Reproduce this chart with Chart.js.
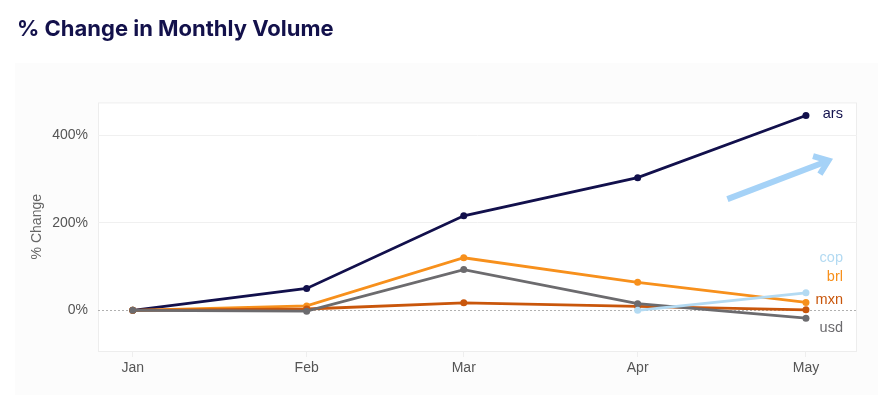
<!DOCTYPE html>
<html lang="en">
<head>
    <meta charset="UTF-8">
    <title>% Change in Monthly Volume</title>
    <style>
        html, body { margin: 0; padding: 0; background: #fff; }
        .chart-container { width: 878px; height: 395px; }
    </style>
</head>
<body>
    <div class="chart-container">
        <canvas id="lineChart" width="878" height="395"></canvas>
    </div>

    <script src="https://cdn.jsdelivr.net/npm/chart.js@4"></script>
    <script>
        // months on a day-of-year axis (Jan 1 = 0)
        const months = ['Jan', 'Feb', 'Mar', 'Apr', 'May'];
        const monthDays = [0, 31, 59, 90, 120];
        const yTicks = [0, 200, 400];

        // % change per month
        const ars = [0, 50, 216, 303, 445];
        const brl = [0, 10, 120, 64, 18];
        const usd = [0, -2, 93, 15, -18];
        const mxn = [0, 3, 17, 9, 1];
        const cop = [null, null, null, 0, 40];

        // decorative trend arrow, in data units (day, %)
        const arrowFrom = [106, 254];
        const arrowTo = [124, 342];

        const toPoints = vals => vals.map((v, i) => ({ x: monthDays[i], y: v }));

        const series = [
            { label: 'cop', data: cop, color: '#b3daf2', dy: -35 },
            { label: 'usd', data: usd, color: '#6c6b6e', dy: 10 },
            { label: 'mxn', data: mxn, color: '#c9560b', dy: -10 },
            { label: 'brl', data: brl, color: '#f7901c', dy: -25 },
            { label: 'ars', data: ars, color: '#12104c', dy: -2 }
        ];

        const font = "'Liberation Sans', Arial, sans-serif";

        const backdrop = {
            id: 'backdrop',
            beforeDraw(chart) {
                const { ctx, chartArea: a } = chart;
                ctx.save();
                ctx.fillStyle = '#fcfcfc';
                ctx.fillRect(15, 63, chart.width - 15, chart.height - 63);
                ctx.fillStyle = '#ffffff';
                ctx.fillRect(a.left, a.top, a.right - a.left, a.bottom - a.top);
                ctx.strokeStyle = '#ededed';
                ctx.lineWidth = 1;
                ctx.strokeRect(a.left + 0.5, a.top + 0.5, a.right - a.left - 1, a.bottom - a.top);
                // dotted zero line
                const y0 = Math.round(chart.scales.y.getPixelForValue(0)) + 0.5;
                ctx.strokeStyle = '#b0b0b0';
                ctx.setLineDash([2, 2]);
                ctx.beginPath();
                ctx.moveTo(a.left, y0);
                ctx.lineTo(a.right, y0);
                ctx.stroke();
                ctx.restore();
            }
        };

        const endLabels = {
            id: 'endLabels',
            afterDatasetsDraw(chart) {
                const { ctx } = chart;
                ctx.save();
                ctx.font = '14.5px ' + font;
                ctx.textAlign = 'right';
                ctx.textBaseline = 'middle';
                chart.data.datasets.forEach((ds, i) => {
                    const meta = chart.getDatasetMeta(i);
                    const last = meta.data[meta.data.length - 1];
                    ctx.fillStyle = ds.borderColor;
                    ctx.fillText(ds.label, last.x + 37, last.y + series[i].dy);
                });
                ctx.restore();
            }
        };

        const trendArrow = {
            id: 'trendArrow',
            afterDatasetsDraw(chart) {
                const { ctx, scales: { x, y } } = chart;
                const x1 = x.getPixelForValue(arrowFrom[0]), y1 = y.getPixelForValue(arrowFrom[1]);
                const x2 = x.getPixelForValue(arrowTo[0]), y2 = y.getPixelForValue(arrowTo[1]);
                const ang = Math.atan2(y2 - y1, x2 - x1);
                const head = 16;
                ctx.save();
                ctx.strokeStyle = '#a5d2f7';
                ctx.lineWidth = 6;
                ctx.lineCap = 'butt';
                ctx.lineJoin = 'miter';
                ctx.beginPath();
                ctx.moveTo(x1, y1);
                ctx.lineTo(x2 - 3 * Math.cos(ang), y2 - 3 * Math.sin(ang));
                ctx.stroke();
                ctx.beginPath();
                ctx.moveTo(x2 + head * Math.cos(ang + Math.PI - 0.65), y2 + head * Math.sin(ang + Math.PI - 0.65));
                ctx.lineTo(x2, y2);
                ctx.lineTo(x2 + head * Math.cos(ang + Math.PI + 0.65), y2 + head * Math.sin(ang + Math.PI + 0.65));
                ctx.stroke();
                ctx.restore();
            }
        };

        const ctxLine = document.getElementById('lineChart').getContext('2d');
        const lineChart = new Chart(ctxLine, {
            type: 'line',
            data: {
                datasets: series.map(s => ({
                    label: s.label,
                    data: toPoints(s.data),
                    borderColor: s.color,
                    backgroundColor: s.color,
                    borderWidth: 2.8,
                    pointRadius: 3.5,
                    pointBorderWidth: 0,
                    tension: 0,
                    spanGaps: false
                }))
            },
            options: {
                responsive: false,
                animation: false,
                devicePixelRatio: 1,
                layout: { padding: { left: 17, right: 21, top: 0, bottom: 12 } },
                plugins: {
                    legend: { display: false },
                    tooltip: { enabled: false },
                    title: {
                        display: true,
                        text: '% Change in Monthly Volume',
                        align: 'start',
                        color: '#13114b',
                        font: { family: "Inter, sans-serif", size: 22, weight: 'bold' },
                        padding: { top: 16, bottom: 60 }
                    }
                },
                scales: {
                    x: {
                        type: 'linear',
                        min: -6.2,
                        max: 129.1,
                        afterBuildTicks: axis => { axis.ticks = monthDays.map(v => ({ value: v })); },
                        afterFit: axis => { axis.height = 32; },
                        ticks: {
                            color: '#555',
                            font: { family: font, size: 14 },
                            padding: 3,
                            maxRotation: 0,
                            callback: v => months[monthDays.indexOf(v)]
                        },
                        grid: { drawOnChartArea: false, color: '#eeeeee', tickLength: 6 },
                        border: { display: false }
                    },
                    y: {
                        min: -93,
                        max: 475,
                        afterBuildTicks: axis => { axis.ticks = yTicks.map(v => ({ value: v })); },
                        afterFit: axis => { axis.width = 81; },
                        ticks: {
                            color: '#555',
                            font: { family: font, size: 14 },
                            padding: 10,
                            callback: v => v + '%'
                        },
                        grid: {
                            drawTicks: false,
                            color: c => c.tick && c.tick.value === 0 ? 'rgba(0,0,0,0)' : '#f0f0f0'
                        },
                        border: { display: false },
                        title: {
                            display: true,
                            text: '% Change',
                            color: '#666',
                            font: { family: font, size: 14 },
                            padding: { top: 12, bottom: 0 }
                        }
                    }
                }
            },
            plugins: [backdrop, trendArrow, endLabels]
        });
    </script>
</body>
</html>
